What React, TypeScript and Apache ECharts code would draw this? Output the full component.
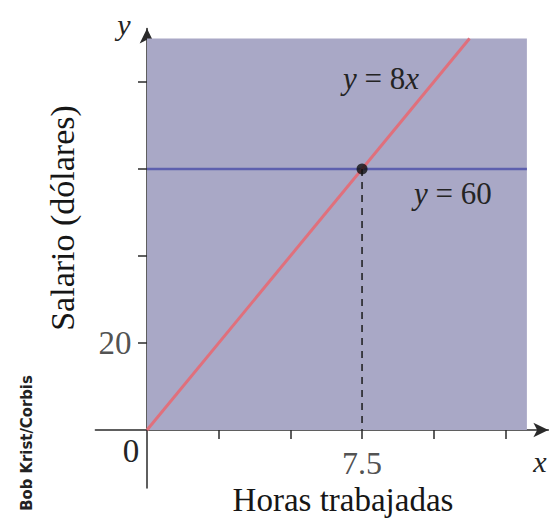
import React, { useEffect, useRef } from "react";
import * as echarts from "echarts";

const LINE_8X: [number, number][] = [[0, 0], [11.25, 90]];
const LINE_60: [number, number][] = [[0, 60], [13.25, 60]];
const POINT: [number, number][] = [[7.5, 60]];
const DROP: [number, number][] = [[7.5, 60], [7.5, 0]];
const AREA: [number, number][] = [[0, 0], [13.25, 90]];
const X_TICKS = [2.5, 5, 7.5, 10, 12.5];
const X_LABELS = [7.5];
const Y_TICKS = [20, 40, 60, 80];
const Y_LABELS = [20];

const SERIF = '"Liberation Serif", "DejaVu Serif", serif';
const AX = "#2a2a2a";
const TXT = "#242424";

export default function App() {
  const ref = useRef<HTMLDivElement>(null);
  useEffect(() => {
    if (!ref.current) return;
    const chart = echarts.init(ref.current, null, { renderer: "svg" });
    const xBase = {
      type: "value",
      min: -1.8,
      max: 14,
      splitLine: { show: false },
      axisLabel: { show: false },
    };
    const yBase = {
      type: "value",
      min: -13.3,
      max: 92.3,
      splitLine: { show: false },
      axisLabel: { show: false },
    };
    const italicRich = { i: { fontStyle: "italic", fontFamily: SERIF, fontSize: 31, fill: TXT } };
    chart.setOption({
      animation: false,
      backgroundColor: "#ffffff",
      grid: { left: 95.4, width: 453, top: 28.5, height: 459.4, containLabel: false, outerBoundsMode: "none" },
      xAxis: [
        {
          ...xBase,
          position: "bottom",
          axisLine: { show: true, onZero: true, symbol: ["none", "arrow"], symbolSize: [11, 15], lineStyle: { color: AX, width: 1.5 } },
          axisTick: { show: true, customValues: X_TICKS, length: 9, lineStyle: { color: AX, width: 1.5 } },
        },
        {
          ...xBase,
          position: "top",
          axisLine: { show: false, onZero: true },
          axisTick: { show: true, customValues: X_TICKS, length: 8, lineStyle: { color: AX, width: 1.5 } },
        },
      ],
      yAxis: [
        {
          ...yBase,
          position: "left",
          axisLine: { show: true, onZero: true, symbol: ["none", "arrow"], symbolSize: [11, 15], lineStyle: { color: AX, width: 1.5 } },
          axisTick: { show: true, customValues: Y_TICKS, length: 9, lineStyle: { color: AX, width: 1.5 } },
        },
        {
          ...yBase,
          position: "right",
          axisLine: { show: false, onZero: true },
          axisTick: { show: true, customValues: Y_TICKS, length: 12, lineStyle: { color: AX, width: 1.5 } },
        },
      ],
      series: [
        {
          type: "line",
          data: [],
          markArea: {
            silent: true,
            itemStyle: { color: "#a9a8c6" },
            data: [[{ coord: AREA[0] }, { coord: AREA[1] }]],
          },
          z: 0,
        },
        {
          type: "line",
          data: LINE_60,
          symbol: "none",
          lineStyle: { color: "#5d5fae", width: 2.5 },
          z: 2,
        },
        {
          type: "line",
          data: LINE_8X,
          symbol: "none",
          lineStyle: { color: "#e0707c", width: 3 },
          z: 3,
        },
        {
          type: "line",
          data: DROP,
          symbol: "none",
          lineStyle: { color: "#1a1a1a", width: 1.5, type: [7, 6] },
          z: 3,
        },
        {
          type: "scatter",
          data: POINT,
          symbolSize: 11,
          itemStyle: { color: "#111" },
          z: 5,
        },
        {
          type: "scatter",
          data: X_LABELS.map((v) => [v, 0]),
          symbolSize: 1,
          itemStyle: { color: "rgba(0,0,0,0)" },
          silent: true,
          label: {
            show: true,
            position: "bottom",
            distance: 16,
            formatter: (p: any) => String(p.value[0]),
            fontFamily: SERIF,
            fontSize: 32,
            color: TXT,
          },
          z: 6,
        },
        {
          type: "scatter",
          data: Y_LABELS.map((v) => [0, v]),
          symbolSize: 1,
          itemStyle: { color: "rgba(0,0,0,0)" },
          silent: true,
          label: {
            show: true,
            position: "left",
            distance: 15,
            formatter: (p: any) => String(p.value[1]),
            fontFamily: SERIF,
            fontSize: 33,
            color: TXT,
          },
          z: 6,
        },
      ],
      graphic: [
        {
          type: "text",
          x: 343,
          y: 78,
          style: {
            text: "{i|y} = 8{i|x}",
            fontFamily: SERIF,
            fontSize: 31,
            fill: TXT,
            verticalAlign: "middle",
            rich: italicRich,
          },
          z: 10,
        },
        {
          type: "text",
          x: 414,
          y: 193,
          style: {
            text: "{i|y} = 60",
            fontFamily: SERIF,
            fontSize: 31,
            fill: TXT,
            verticalAlign: "middle",
            rich: italicRich,
          },
          z: 10,
        },
        {
          type: "text",
          x: 131,
          y: 451,
          style: { text: "0", fontFamily: SERIF, fontSize: 33, fill: TXT, align: "center", verticalAlign: "middle" },
        },
        {
          type: "text",
          x: 540,
          y: 461,
          style: { text: "x", fontFamily: SERIF, fontStyle: "italic", fontSize: 30, fill: TXT, align: "center", verticalAlign: "middle" },
        },
        {
          type: "text",
          x: 124,
          y: 24,
          style: { text: "y", fontFamily: SERIF, fontStyle: "italic", fontSize: 30, fill: TXT, align: "center", verticalAlign: "middle" },
        },
        {
          type: "text",
          x: 343,
          y: 500,
          style: { text: "Horas trabajadas", fontFamily: SERIF, fontSize: 33, fill: "#161616", align: "center", verticalAlign: "middle" },
        },
        {
          type: "text",
          x: 62,
          y: 218,
          rotation: Math.PI / 2,
          style: { text: "Salario (dólares)", fontFamily: SERIF, fontSize: 34, fill: "#161616", align: "center", verticalAlign: "middle" },
        },
        {
          type: "text",
          x: 26,
          y: 443,
          rotation: Math.PI / 2,
          style: { text: "Bob Krist/Corbis", fontFamily: '"DejaVu Sans Condensed", "Liberation Sans Narrow", sans-serif', fontWeight: "bold", fontSize: 16.5, fill: "#222", align: "center", verticalAlign: "middle" },
        },
      ],
    });
    return () => chart.dispose();
  }, []);
  return <div ref={ref} style={{ position: "fixed", left: 0, top: 0, width: 555, height: 523 }} />;
}
